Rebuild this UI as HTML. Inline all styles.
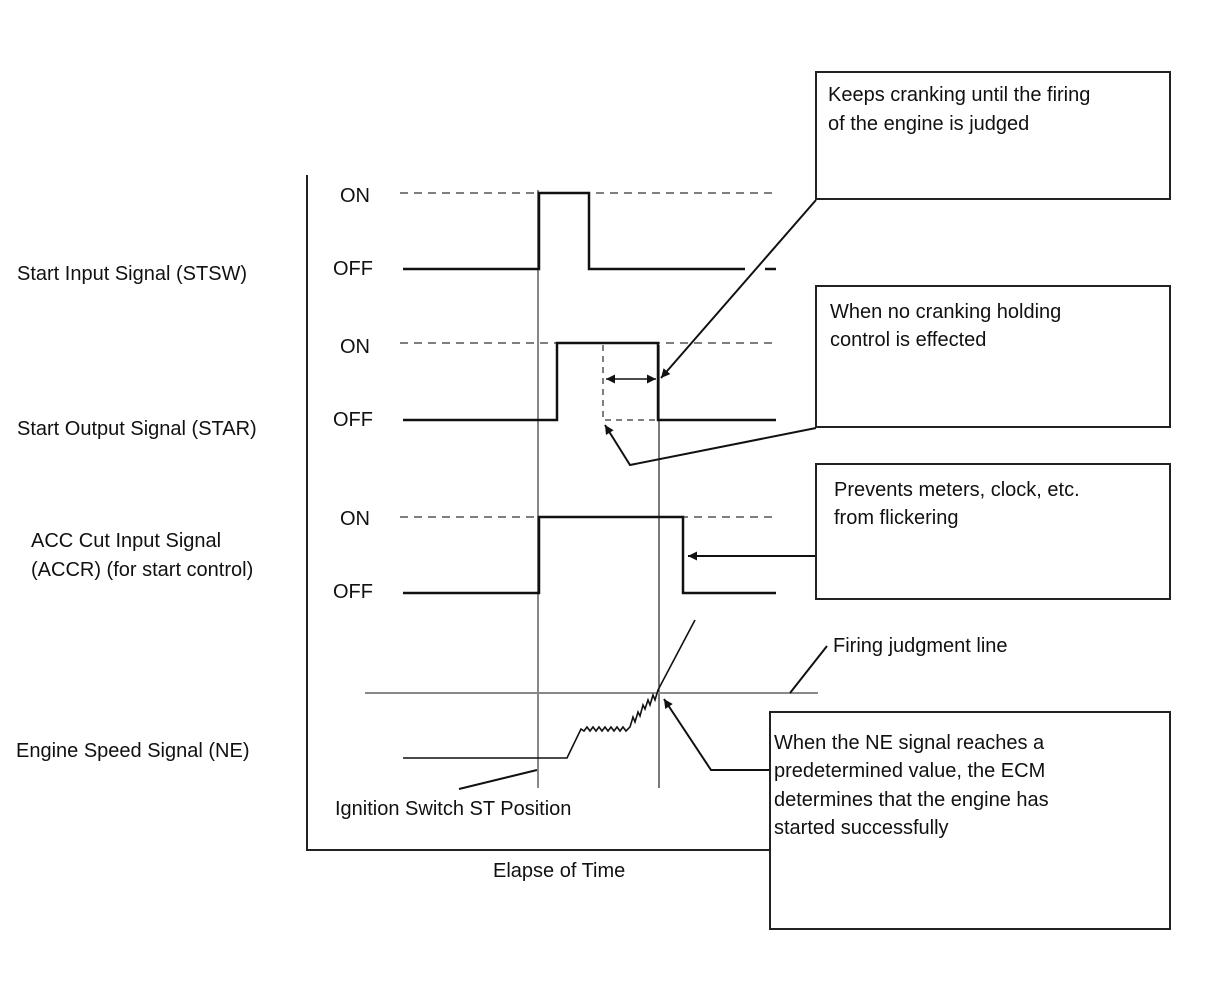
<!DOCTYPE html>
<html><head><meta charset="utf-8"><style>
html,body{margin:0;padding:0;background:#fff;}
svg{display:block;}
text{font-family:"Liberation Sans",Arial,sans-serif;font-size:20px;fill:#111;}
</style></head><body>
<svg width="1208" height="984" viewBox="0 0 1208 984" xmlns="http://www.w3.org/2000/svg">
<defs>
<marker id="ah" viewBox="0 0 10 10" refX="10" refY="5" markerWidth="12" markerHeight="9" markerUnits="userSpaceOnUse" orient="auto-start-reverse"><path d="M0,0 L10,5 L0,10 z" fill="#111"/></marker>
</defs>
<!-- axes -->
<polyline points="307,175 307,850 770,850" fill="none" stroke="#222" stroke-width="2"/>
<!-- gray verticals -->
<line x1="538" y1="190" x2="538" y2="788" stroke="#888" stroke-width="2"/>
<line x1="659" y1="345" x2="659" y2="788" stroke="#333" stroke-width="1.3"/>
<!-- STSW -->
<line x1="400" y1="193" x2="776" y2="193" stroke="#555" stroke-width="1.5" stroke-dasharray="8,6"/>
<polyline points="403,269 539,269 539,193 589,193 589,269 745,269" fill="none" stroke="#111" stroke-width="2.5"/>
<line x1="765" y1="269" x2="776" y2="269" stroke="#111" stroke-width="2.5"/>
<!-- STAR -->
<line x1="400" y1="343" x2="776" y2="343" stroke="#555" stroke-width="1.5" stroke-dasharray="8,6"/>
<polyline points="403,420 557,420 557,343 658,343 658,420 776,420" fill="none" stroke="#111" stroke-width="2.5"/>
<polyline points="603,345 603,420 658,420" fill="none" stroke="#555" stroke-width="1.5" stroke-dasharray="6,5"/>
<line x1="606" y1="379" x2="631" y2="379" stroke="#111" stroke-width="1.5" marker-start="url(#ah)"/>
<line x1="631" y1="379" x2="656" y2="379" stroke="#111" stroke-width="1.5" marker-end="url(#ah)"/>
<!-- ACCR -->
<line x1="400" y1="517" x2="776" y2="517" stroke="#555" stroke-width="1.5" stroke-dasharray="8,6"/>
<polyline points="403,593 539,593 539,517 683,517 683,593 776,593" fill="none" stroke="#111" stroke-width="2.5"/>
<!-- NE -->
<line x1="365" y1="693" x2="818" y2="693" stroke="#888" stroke-width="2"/>
<polyline points="403,758 567,758 581,729 584,731 587,727 590,731 593,727 596,731 599,727 602,731 605,727 608,731 611,727 614,731 617,727 620,731 623,727 626,731 630,727 633,717 635,722 638,712 640,716 643,705 645,709 648,700 650,705 653,695 655,700 658,690 695,620" fill="none" stroke="#111" stroke-width="1.6"/>
<!-- leaders -->
<line x1="459" y1="789" x2="537" y2="770" stroke="#111" stroke-width="2"/>
<line x1="790" y1="693" x2="827" y2="646" stroke="#111" stroke-width="2"/>
<polyline points="770,770 711,770 664,699" fill="none" stroke="#111" stroke-width="2" marker-end="url(#ah)"/>
<polyline points="816,200 661,378" fill="none" stroke="#111" stroke-width="2" marker-end="url(#ah)"/>
<polyline points="816,428 630,465 605,425" fill="none" stroke="#111" stroke-width="2" marker-end="url(#ah)"/>
<line x1="816" y1="556" x2="688" y2="556" stroke="#111" stroke-width="2" marker-end="url(#ah)"/>
<!-- boxes -->
<rect x="816" y="72" width="354" height="127" fill="#fff" stroke="#222" stroke-width="2"/>
<rect x="816" y="286" width="354" height="141" fill="#fff" stroke="#222" stroke-width="2"/>
<rect x="816" y="464" width="354" height="135" fill="#fff" stroke="#222" stroke-width="2"/>
<rect x="770" y="712" width="400" height="217" fill="#fff" stroke="#222" stroke-width="2"/>
<!-- texts -->
<text x="828" y="101">Keeps cranking until the firing</text>
<text x="828" y="130">of the engine is judged</text>
<text x="830" y="318">When no cranking holding</text>
<text x="830" y="346">control  is effected</text>
<text x="834" y="496">Prevents meters, clock, etc.</text>
<text x="834" y="524">from flickering</text>
<text x="774" y="749">When the NE signal reaches a</text>
<text x="774" y="777">predetermined value, the ECM</text>
<text x="774" y="806">determines that the engine has</text>
<text x="774" y="834">started successfully</text>
<text x="833" y="652">Firing judgment line</text>
<text x="335" y="815">Ignition Switch ST Position</text>
<text x="493" y="877">Elapse of Time</text>
<text x="340" y="202">ON</text>
<text x="333" y="275">OFF</text>
<text x="340" y="353">ON</text>
<text x="333" y="426">OFF</text>
<text x="340" y="525">ON</text>
<text x="333" y="598">OFF</text>
<text x="17" y="280">Start Input Signal (STSW)</text>
<text x="17" y="435">Start Output Signal (STAR)</text>
<text x="31" y="547">ACC Cut Input Signal</text>
<text x="31" y="576">(ACCR) (for start control)</text>
<text x="16" y="757">Engine Speed Signal (NE)</text>
</svg>
</body></html>
